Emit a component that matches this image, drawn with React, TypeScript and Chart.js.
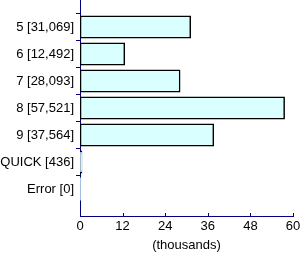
import { useEffect, useRef } from 'react';
import { Chart, registerables } from 'chart.js';

Chart.register(...registerables);

const categories = ['5', '6', '7', '8', '9', 'QUICK', 'Error'];
const counts = [31069, 12492, 28093, 57521, 37564, 436, 0];
const xTickValues = [0, 12, 24, 36, 48, 60];
const xTitle = '(thousands)';

const AXIS = '#000080';
const FILL = '#d9ffff';
const FONT = 'Liberation Sans, Arial, sans-serif';

const labels = ['', ...categories.map((c, i) => `${c} [${counts[i].toLocaleString('en-US')}]`), ''];
const values = [null, ...counts.map((v) => v / 1000), null];

const innerTicks = {
  id: 'innerTicks',
  afterDraw(chart: any) {
    const x = chart.scales.x;
    const ctx = chart.ctx;
    ctx.save();
    ctx.strokeStyle = AXIS;
    ctx.lineWidth = 1;
    x.ticks.forEach((t: any) => {
      const px = Math.round(x.getPixelForValue(t.value)) + 0.5;
      ctx.beginPath();
      ctx.moveTo(px, x.top);
      ctx.lineTo(px, x.top - 3);
      ctx.stroke();
    });
    ctx.restore();
  },
};

export default function App() {
  const ref = useRef<HTMLCanvasElement>(null);
  useEffect(() => {
    if (!ref.current) return;
    const chart = new Chart(ref.current, {
      type: 'bar',
      data: {
        labels,
        datasets: [
          {
            data: values as any,
            backgroundColor: FILL,
            borderColor: '#000000',
            borderWidth: (c: any) => (c.raw ? 1.5 : 0),
            borderSkipped: false,
            inflateAmount: 0.75,
            categoryPercentage: 1,
            barPercentage: 0.8,
          },
        ],
      },
      options: {
        indexAxis: 'y',
        responsive: false,
        animation: false,
        devicePixelRatio: 1,
        layout: { padding: { top: 0, right: 7, left: 0, bottom: 0 } },
        plugins: { legend: { display: false }, tooltip: { enabled: false } },
        scales: {
          y: {
            type: 'category',
            offset: false,
            z: 1,
            afterFit: (s: any) => {
              s.width = 80;
              s.paddingTop = 0;
              s.paddingBottom = 0;
            },
            border: { color: AXIS, width: 1 },
            grid: {
              drawOnChartArea: false,
              drawTicks: true,
              tickLength: 4,
              color: (c: any) => (c.tick && c.tick.label ? AXIS : 'rgba(0,0,0,0)'),
            },
            ticks: {
              autoSkip: false,
              padding: 2,
              color: '#000000',
              font: { family: FONT, size: 13 },
              callback: (_v: any, i: number) => (labels[i] ? labels[i] : null),
            },
          },
          x: {
            type: 'linear',
            min: 0,
            max: 60,
            z: 1,
            afterFit: (s: any) => {
              s.height = 38;
              s.paddingRight = 0;
              s.paddingLeft = 0;
            },
            afterBuildTicks: (s: any) => {
              s.ticks = xTickValues.map((v) => ({ value: v }));
            },
            border: { color: AXIS, width: 1 },
            grid: { drawOnChartArea: false, drawTicks: false },
            ticks: {
              padding: 3,
              color: '#000000',
              font: { family: FONT, size: 13 },
            },
            title: {
              display: true,
              text: xTitle,
              color: '#000000',
              font: { family: FONT, size: 13 },
              padding: { top: 0, bottom: 1 },
            },
          },
        },
      },
      plugins: [innerTicks],
    });
    return () => chart.destroy();
  }, []);
  return (
    <div style={{ position: 'fixed', left: 0, top: 0, width: 300, height: 254, background: '#ffffff' }}>
      <canvas ref={ref} width={300} height={254} />
    </div>
  );
}
